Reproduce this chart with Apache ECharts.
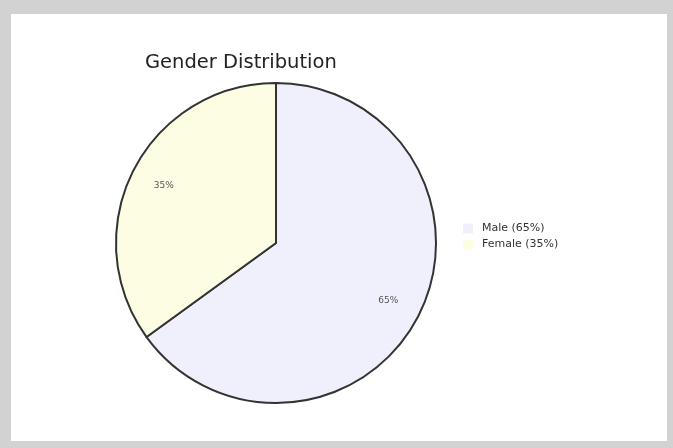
<!DOCTYPE html>
<html>
<head>
<meta charset="utf-8">
<script src="https://cdn.jsdelivr.net/npm/echarts@6/dist/echarts.min.js"></script>
<style>
html,body{margin:0;padding:0;width:673px;height:448px;overflow:hidden;background:#d2d2d2;}
#chart{position:absolute;left:11px;top:14px;width:656px;height:427px;background:#fff;}
</style>
</head>
<body>
<div id="chart"></div>
<script>
var titleText = "Gender Distribution";
var categories = ["Male", "Female"];
var values = [65, 35];
var colors = ["#f0f0fc", "#fdfde4"];

var data = categories.map(function (c, i) {
  return { name: c, value: values[i], itemStyle: { color: colors[i] } };
});

var chart = echarts.init(document.getElementById('chart'));
chart.setOption({
  animation: false,
  title: {
    text: titleText,
    left: 129, top: 34,
    textStyle: { fontFamily: 'DejaVu Sans', fontSize: 19.5, fontWeight: 'normal', color: '#222' }
  },
  legend: {
    orient: 'vertical',
    left: 447, top: 204,
    itemWidth: 10, itemHeight: 10, itemGap: 5,
    icon: 'rect',
    itemStyle: { borderWidth: 0 },
    data: categories,
    formatter: function (name) {
      var i = categories.indexOf(name);
      return name + ' (' + values[i] + '%)';
    },
    textStyle: { fontFamily: 'DejaVu Sans', fontSize: 11, color: '#333', padding: [0, 0, 0, 4] }
  },
  series: [
    {
      type: 'pie',
      center: [265, 229],
      radius: [0, 160],
      startAngle: 90,
      clockwise: true,
      silent: true,
      label: { show: false },
      labelLine: { show: false },
      itemStyle: { borderColor: '#333', borderWidth: 2 },
      data: data
    },
    {
      type: 'pie',
      center: [265, 229],
      radius: [86, 160],
      startAngle: 90,
      clockwise: true,
      silent: true,
      legendHoverLink: false,
      itemStyle: { color: 'rgba(0,0,0,0)', borderWidth: 0 },
      label: {
        show: true, position: 'inside',
        formatter: '{c}%',
        fontFamily: 'DejaVu Sans', fontSize: 9, color: '#555'
      },
      labelLine: { show: false },
      data: categories.map(function (c, i) { return { name: c, value: values[i] }; })
    }
  ]
});
</script>
</body>
</html>
